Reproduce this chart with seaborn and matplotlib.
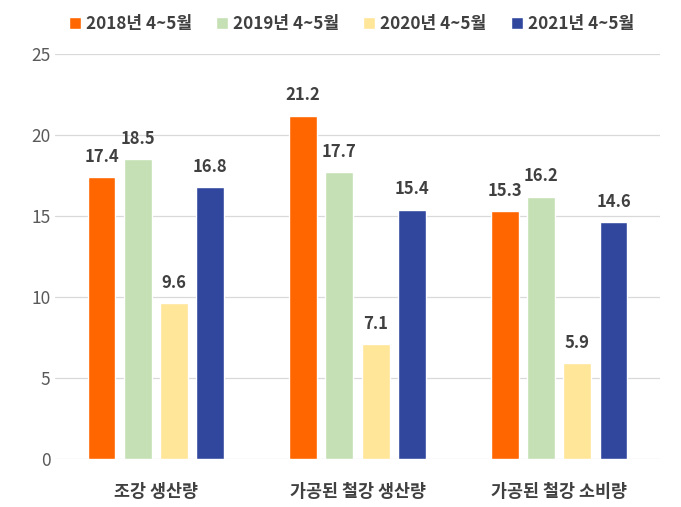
import pandas as pd
import matplotlib.pyplot as plt
import seaborn as sns

# Data
categories = ["조강 생산량", "가공된 철강 생산량", "가공된 철강 소비량"]
periods = ["2018년 4~5월", "2019년 4~5월", "2020년 4~5월", "2021년 4~5월"]
values_2018 = [17.4, 21.2, 15.3]
values_2019 = [18.5, 17.7, 16.2]
values_2020 = [9.6, 7.1, 5.9]
values_2021 = [16.8, 15.4, 14.6]
colors = ["#FF6600", "#C5E0B4", "#FFE699", "#31479E"]

rows = []
for period, vals in zip(periods, [values_2018, values_2019, values_2020, values_2021]):
    for cat, v in zip(categories, vals):
        rows.append({"category": cat, "period": period, "value": v})
df = pd.DataFrame(rows)

sns.set_style("white")
plt.rcParams['font.family'] = ['Noto Sans CJK KR', 'DejaVu Sans']

fig = plt.figure(figsize=(6.81, 5.07), dpi=100)
ax = fig.add_axes([0.081, 0.0947, 0.888, 0.7988])

sns.barplot(data=df, x="category", y="value", hue="period", order=categories,
            hue_order=periods, palette=colors, width=0.72, gap=0.23,
            saturation=1, ax=ax, zorder=3)

for container in ax.containers:
    ax.bar_label(container, fmt="%.1f", padding=8, fontsize=12,
                 fontweight="bold", color="#404040")

ax.set_ylim(0, 25)
ax.set_xlim(-0.5, 2.5)
ax.set_yticks(range(0, 26, 5))
ax.yaxis.grid(True, color="#D9D9D9", linewidth=0.9, zorder=0)
ax.set_axisbelow(True)
for s in ax.spines.values():
    s.set_visible(False)
ax.set_xlabel("")
ax.set_ylabel("")
ax.tick_params(axis="both", length=0, labelsize=12.5, colors="#595959")
ax.tick_params(axis="x", pad=17)
for lbl in ax.get_xticklabels():
    lbl.set_fontweight("bold")
    lbl.set_fontsize(12.5)
    lbl.set_color("#404040")

ax.legend(loc="upper center", bbox_to_anchor=(0.49, 1.135), ncol=4, frameon=False,
          handlelength=0.7, handleheight=0.7, handletextpad=0.3, columnspacing=1.4,
          prop={"weight": "bold", "size": 12.3}, labelcolor="#404040")

fig.savefig("out.png", dpi=100)
